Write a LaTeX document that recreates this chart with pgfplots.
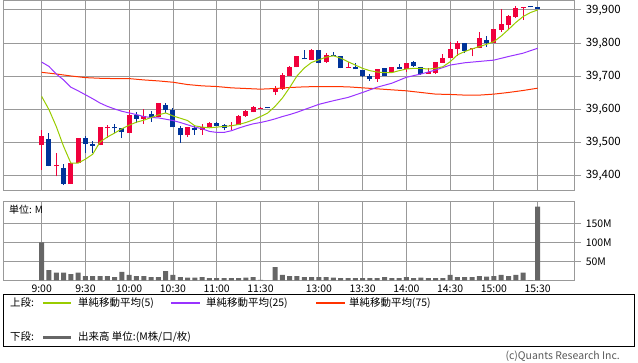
\documentclass[border=0pt]{standalone}
\usepackage{fontspec}
\setmainfont{Noto Sans CJK JP}
\usepackage{pgfplots}
\pgfplotsset{compat=1.18}
\usepackage{pgfplotstable}

\definecolor{upred}{HTML}{F0003C}
\definecolor{dnblue}{HTML}{003399}
\definecolor{maA}{HTML}{99CC00}
\definecolor{maB}{HTML}{9933FF}
\definecolor{maC}{HTML}{FF3300}
\definecolor{gridgray}{HTML}{999999}
\definecolor{volgray}{HTML}{666666}

% up (red) candles: i open high low close
\pgfplotstableread{
i o h l c
0 39490 39537 39416 39519
2 39426 39467 39396 39430
4 39372 39435 39372 39435
5 39435 39513 39435 39513
8 39490 39546 39490 39546
9 39541 39551 39512 39544
12 39527 39598 39527 39582
14 39569 39601 39555 39579
16 39575 39619 39575 39619
20 39520 39544 39515 39544
22 39535 39555 39522 39546
23 39544 39562 39544 39557
26 39549 39562 39535 39552
27 39552 39582 39552 39579
28 39579 39598 39575 39595
29 39590 39608 39590 39606
30 39600 39606 39600 39604
32 39650 39670 39643 39665
33 39660 39710 39658 39703
34 39700 39729 39700 39726
35 39726 39759 39726 39759
37 39749 39782 39749 39779
39 39743 39771 39740 39764
42 39724 39743 39724 39728
46 39690 39720 39683 39720
48 39713 39726 39710 39726
50 39720 39740 39713 39738
53 39706 39723 39706 39713
54 39708 39743 39706 39741
55 39740 39767 39740 39754
56 39754 39804 39754 39781
57 39781 39807 39761 39799
59 39781 39784 39759 39784
60 39784 39834 39784 39814
62 39801 39841 39801 39841
63 39839 39902 39834 39857
64 39855 39885 39839 39882
65 39880 39912 39875 39905
66 39905 39910 39871 39910
}\upcandles

% down (blue) candles: i open high low close
\pgfplotstableread{
i o h l c
1 39509 39527 39426 39428
3 39422 39434 39369 39374
6 39513 39517 39467 39495
7 39495 39502 39467 39489
10 39545 39555 39527 39541
11 39543 39543 39512 39529
13 39582 39591 39557 39571
15 39585 39595 39562 39575
17 39613 39618 39588 39596
18 39598 39603 39544 39544
19 39542 39549 39497 39520
21 39542 39552 39522 39535
24 39558 39562 39547 39549
25 39552 39555 39535 39541
31 39605 39605 39602 39602
36 39755 39779 39750 39750
38 39779 39779 39738 39740
40 39764 39774 39761 39761
41 39761 39761 39723 39723
43 39728 39738 39720 39720
44 39718 39718 39696 39700
45 39700 39706 39686 39690
47 39723 39723 39700 39700
49 39726 39735 39720 39720
51 39742 39745 39728 39730
52 39726 39728 39703 39706
58 39799 39799 39769 39777
61 39809 39821 39789 39799
67 39911 39911 39908 39908
68 39910 39910 39902 39902
}\dncandles

\pgfplotstableread{
i v
0 39638
1 39598
2 39547
3 39487
4 39436
5 39436
6 39448
7 39463
8 39500
9 39515
10 39527
11 39540
12 39551
13 39560
14 39566
15 39574
16 39582
17 39588
18 39579
19 39572
20 39565
21 39549
22 39545
23 39543
24 39545
25 39547
26 39549
27 39553
28 39559
29 39567
30 39577
31 39588
32 39608
33 39633
34 39665
35 39700
36 39724
37 39741
38 39749
39 39757
40 39761
41 39754
42 39743
43 39733
44 39723
45 39716
46 39712
47 39710
48 39710
49 39716
50 39721
51 39723
52 39723
53 39721
54 39723
55 39728
56 39743
57 39764
58 39774
59 39782
60 39789
61 39796
62 39804
63 39821
64 39841
65 39862
66 39880
67 39892
68 39900
}\maAtab

\pgfplotstableread{
i v
0 39742
1 39729
2 39706
3 39688
4 39666
5 39655
6 39643
7 39631
8 39618
9 39608
10 39600
11 39593
12 39588
13 39583
14 39577
15 39574
16 39573
17 39569
18 39565
19 39559
20 39552
21 39545
22 39540
23 39532
24 39529
25 39529
26 39534
27 39542
28 39549
29 39555
30 39559
31 39564
32 39570
33 39577
34 39583
35 39590
36 39598
37 39606
38 39614
40 39625
42 39635
44 39650
46 39666
48 39678
50 39696
52 39706
54 39718
56 39733
58 39740
60 39744
62 39748
64 39759
66 39769
68 39784
}\maBtab

\pgfplotstableread{
i v
0 39711
2 39706
4 39700
6 39695
8 39693
10 39692
12 39692
14 39688
16 39685
18 39681
20 39674
22 39670
24 39668
26 39664
28 39662
30 39660
32 39662
34 39665
36 39667
38 39668
40 39668
42 39667
44 39664
46 39661
48 39658
50 39655
52 39650
54 39645
56 39644
58 39642
60 39642
62 39645
64 39650
66 39656
68 39663
}\maCtab

\pgfplotstableread{
i v
0 100
1 27
2 20
3 20
4 16.6
5 20
6 11
7 11
8 11
9 11
10 8.7
11 22
12 14
13 11
14 11
15 8.7
16 8.7
17 24
18 14
19 8.7
20 7
21 7
22 8.7
23 5.5
24 5.5
25 5.5
26 5.5
27 5.5
28 7
29 8.7
30 1
32 35
33 14
34 11
35 11
36 8.7
37 8.7
38 8.7
39 8.7
40 7
41 5.5
42 5.5
43 5.5
44 5.5
45 5.5
46 5.5
47 8.7
48 5.5
49 5.5
50 8.7
51 5.5
52 7
53 5.5
54 5.5
55 5.5
56 14
57 8.7
58 8.7
59 8.7
60 11
61 9.6
62 11
63 14.5
64 11
65 14.5
66 20
67 0.6
68 194
}\voltab

\pgfplotsset{
  panel/.style={
    scale only axis,
    width=571bp,
    xmin=-5.26, xmax=73.02,
    xtick={0,6,12,18,24,30,38,44,50,56,62,68},
    xmajorgrids, ymajorgrids,
    grid style={gridgray, line width=0.9bp},
    axis line style={gridgray, line width=0.9bp},
    xtick style={draw=none},
    ytick style={gridgray, line width=0.9bp},
    ytick pos=right, yticklabel pos=right,
    tick align=outside,
    major tick length=7bp,
    /pgf/number format/assume math mode=true,
  },
  candle/.style 2 args={draw=none, no markers, forget plot,
    error bars/.cd, y dir=plus, y explicit, error mark=none,
    error bar style={draw=#1, line width=#2}},
}

\begin{document}
\begin{tikzpicture}[x=1bp,y=1bp]
\useasboundingbox (0,0) rectangle (638,-362);

% ---------- price panel ----------
\begin{axis}[panel,
  at={(3.3bp,-0.7bp)}, anchor=north west,
  height=189.3bp,
  ymin=39354.5, ymax=39928,
  ytick={39400,39500,39600,39700,39800,39900},
  yticklabels={{39,400},{39,500},{39,600},{39,700},{39,800},{39,900}},
  yticklabel style={font=\fontsize{11.5}{13}\selectfont, xshift=1bp},
  xticklabels={,,,,,,,,,,,},
]
% wicks
\addplot[candle={upred}{1bp}]
  table[x=i, y=l, y error plus expr=\thisrow{h}-\thisrow{l}] {\upcandles};
\addplot[candle={dnblue}{1bp}]
  table[x=i, y=l, y error plus expr=\thisrow{h}-\thisrow{l}] {\dncandles};
% bodies
\addplot[candle={upred}{5bp}]
  table[x=i, y=o, y error plus expr=\thisrow{c}-\thisrow{o}] {\upcandles};
\addplot[candle={dnblue}{5bp}]
  table[x=i, y=c, y error plus expr=\thisrow{o}-\thisrow{c}] {\dncandles};
% moving averages
\addplot[maC, line width=1bp, mark=none] table[x=i, y=v] {\maCtab};
\addplot[maB, line width=1bp, mark=none] table[x=i, y=v] {\maBtab};
\addplot[maA, line width=1bp, mark=none] table[x=i, y=v] {\maAtab};
\end{axis}

% ---------- volume panel ----------
\begin{axis}[panel,
  at={(3.3bp,-280.3bp)}, anchor=south west,
  height=78.6bp,
  ymin=0, ymax=207,
  ytick={50,100,150},
  yticklabels={50M,100M,150M},
  yticklabel style={font=\fontsize{10.5}{12}\selectfont, xshift=1bp},
  xticklabels={9:00,9:30,10:00,10:30,11:00,11:30,13:00,13:30,14:00,14:30,15:00,15:30},
  xticklabel style={font=\fontsize{10.5}{12}\selectfont, yshift=6bp},
]
\addplot[ybar, bar width=5bp, bar shift=0pt, fill=volgray, draw=none] table[x=i, y=v] {\voltab};
\end{axis}

\node[anchor=west, inner sep=0, font=\fontsize{10}{12}\selectfont] at (9,-209.5) {単位: M};

% ---------- legend box ----------
\draw[black, line width=1bp] (3.5,-294) rectangle (634.5,-346.5);
\begin{scope}[every node/.style={anchor=west, inner sep=0, font=\fontsize{10.5}{12}\selectfont}]
\node at (10,-303) {上段:};
\draw[color=maA, line width=1.3bp] (43,-303) -- (71,-303);
\node at (78,-303) {単純移動平均(5)};
\draw[color=maB, line width=1.3bp] (171,-303) -- (200,-303);
\node at (206,-303) {単純移動平均(25)};
\draw[color=maC, line width=1.3bp] (316,-303) -- (345,-303);
\node at (349,-303) {単純移動平均(75)};
\node at (10,-337) {下段:};
\draw[color=volgray, line width=3bp] (43,-337) -- (71,-337);
\node at (78,-337) {出来高 単位:(M株/口/枚)};
\end{scope}
\node[anchor=east, inner sep=0, text=black!65, font=\fontsize{10.5}{12}\selectfont] at (620,-356.5) {(c)Quants Research Inc.};
\end{tikzpicture}
\end{document}
